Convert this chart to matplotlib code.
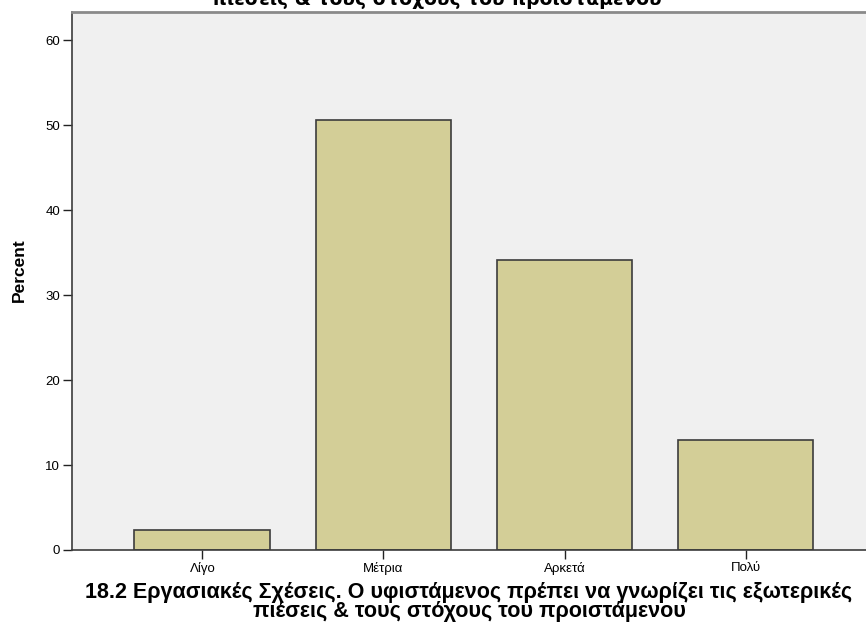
import matplotlib
matplotlib.use("Agg")
import matplotlib.pyplot as plt

categories = ["Λίγο", "Μέτρια", "Αρκετά", "Πολύ"]
percent = [2.3, 50.6, 34.1, 12.9]
yticks = [0, 10, 20, 30, 40, 50, 60]

title_line = "πιέσεις & τους στόχους του προιστάμενου"
xlabel = ("18.2 Εργασιακές Σχέσεις. Ο υφιστάμενος πρέπει να γνωρίζει τις εξωτερικές\n"
          "πιέσεις & τους στόχους του προιστάμενου")

W, H = 866, 634
fig = plt.figure(figsize=(W / 100, H / 100), dpi=100)
fig.patch.set_facecolor("white")

left, top, bottom = 72, 12, 550
ax = fig.add_axes([left / W, 1 - bottom / H, 1 - left / W, (bottom - top) / H])
ax.set_facecolor("#F0F0F0")

x = list(range(len(categories)))
ax.bar(x, percent, width=0.75, color="#D3CE97", edgecolor="#3C3C3C", linewidth=1.2, zorder=2)

ax.set_xlim(-0.72, 3.665)
ax.set_ylim(0, 63.3)
ax.set_xticks(x)
ax.set_xticklabels(categories, fontsize=9.5, family="Liberation Sans")
ax.set_yticks(yticks)
ax.set_yticklabels([str(v) for v in yticks], fontsize=9.5, family="Liberation Sans")
ax.tick_params(axis="both", length=6.5, width=1, color="#222222", pad=2)

ax.spines["right"].set_visible(False)
ax.spines["left"].set_color("#3C3C3C")
ax.spines["left"].set_linewidth(1.2)
ax.spines["bottom"].set_color("#3C3C3C")
ax.spines["bottom"].set_linewidth(1.2)
ax.spines["top"].set_color("#8A8A8A")
ax.spines["top"].set_linewidth(2)

ax.set_ylabel("Percent", fontsize=12.5, fontweight="bold", family="Liberation Sans")
ax.yaxis.set_label_coords(-0.057, 0.52)

# category axis title, two centred lines below the tick labels
fig.text((left + W) / 2 / W, 1 - 582 / H, xlabel, ha="center", va="top",
         multialignment="center", fontsize=15.5, fontweight="bold",
         family="Liberation Sans", linespacing=0.9)

# chart title, only its lower part shows at the top edge
fig.text(437 / W, 1 - 5 / H, title_line, ha="center", va="baseline",
         fontsize=13.5, fontweight="bold", family="DejaVu Sans")

fig.savefig("out.png", dpi=100)
